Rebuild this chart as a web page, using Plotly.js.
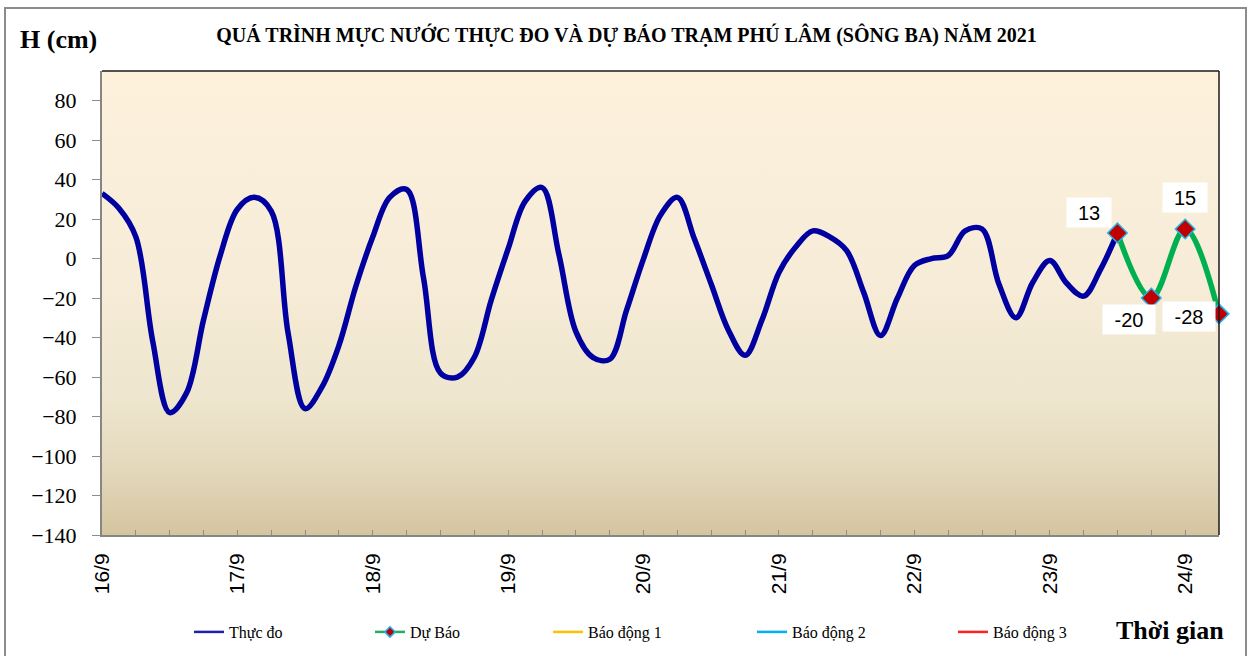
<!DOCTYPE html>
<html>
<head>
<meta charset="utf-8">
<script src="https://cdn.plot.ly/plotly-3.0.1.min.js"></script>
<style>
  html, body { margin: 0; padding: 0; background: #ffffff; }
  #chart { width: 1253px; height: 656px; }
</style>
</head>
<body>
<div id="chart"></div>
<script>
// ---------------- DATA ----------------
const START_TIME = '2021-09-16 00:00';
const STEP_HOURS = 3;
// Observed water level (cm), every 3 hours from 16/9 00h to 23/9 12h
const observed = [
  33, 25.5, 11, -42, -78, -68, -31, 2,
  25, 31, 24, -38, -76, -65, -44, -14,
  11, 31, 35, -10, -58, -60, -50, -21,
  5, 29, 36, 2, -37, -50, -51, -26,
  0, 22, 31, 10, -13, -36, -49, -31,
  -7, 6, 14, 11, 4, -17, -39, -20,
  -3.5, 0, 1.5, 14, 15, -13, -30, -12,
  -1, -12.5, -19, -5.5, 13
];
// Forecast
const forecastTimes = ['2021-09-23 12:00', '2021-09-23 18:00', '2021-09-24 00:00', '2021-09-24 06:00'];
const forecast = [13, -20, 15, -28];

const seriesNames = ['Thực đo', 'Dự Báo', 'Báo động 1', 'Báo động 2', 'Báo động 3'];
const titleText = 'QUÁ TRÌNH MỰC NƯỚC THỰC ĐO VÀ DỰ BÁO TRẠM PHÚ LÂM (SÔNG BA) NĂM 2021';
const yTitleText = 'H (cm)';
const xTitleText = 'Thời gian';

// ---------------- HELPERS ----------------
function pad(n) { return (n < 10 ? '0' : '') + n; }
function timeAt(i) {
  const base = Date.UTC(2021, 8, 16, 0, 0);
  const d = new Date(base + i * STEP_HOURS * 3600 * 1000);
  return d.getUTCFullYear() + '-' + pad(d.getUTCMonth() + 1) + '-' + pad(d.getUTCDate()) + ' ' +
         pad(d.getUTCHours()) + ':' + pad(d.getUTCMinutes());
}
const observedTimes = observed.map((_, i) => timeAt(i));

// ---------------- STYLE ----------------
const W = 1253, H = 656;
const M = { l: 102, r: 34, t: 71, b: 121 };
const PW = W - M.l - M.r, PH = H - M.t - M.b;
const px2x = px => (px - M.l) / PW;
const px2y = py => (H - M.b - py) / PH;

const SERIF = 'Liberation Serif, Times New Roman, serif';
const SANS = 'Liberation Sans, Arial, sans-serif';

const BLUE = '#0000A0', GREEN = '#00B050', RED_M = '#C00000', CYAN = '#1FB4EC';
const Y1 = '#FFC000', C2 = '#00B0F0', R3 = '#FF2020';

const gradSvg = "<svg xmlns='http://www.w3.org/2000/svg' width='100' height='100' preserveAspectRatio='none'>" +
  "<defs><linearGradient id='g' x1='0' y1='0' x2='0' y2='1'>" +
  "<stop offset='0' stop-color='#FDF1DC'/>" +
  "<stop offset='0.45' stop-color='#F6ECD7'/>" +
  "<stop offset='0.7' stop-color='#EFE6CF'/>" +
  "<stop offset='0.85' stop-color='#E4D9BD'/>" +
  "<stop offset='1' stop-color='#D4C59F'/>" +
  "</linearGradient></defs><rect x='0' y='0' width='100' height='100' fill='url(#g)'/></svg>";
const gradUri = 'data:image/svg+xml;charset=utf-8,' + encodeURIComponent(gradSvg);

// label offsets (pixels) for forecast value labels
const labelShift = [[-28, 20], [-22, -21], [0, 31], [-30, -3]];

// ---------------- TRACES ----------------
const traces = [
  {
    x: observedTimes, y: observed, type: 'scatter', mode: 'lines',
    line: { color: BLUE, width: 5.5, shape: 'spline', smoothing: 1 },
    showlegend: false, hoverinfo: 'x+y'
  },
  {
    x: forecastTimes, y: forecast, type: 'scatter', mode: 'lines+markers',
    line: { color: GREEN, width: 5.5, shape: 'spline', smoothing: 1 },
    marker: { symbol: 'diamond', size: 15, color: RED_M, line: { color: CYAN, width: 1.5 } },
    cliponaxis: false, showlegend: false
  },
  // legend entries
  { x: [observedTimes[0]], y: [null], type: 'scatter', mode: 'lines', name: seriesNames[0],
    line: { color: '#2020B0', width: 2.5 }, legend: 'legend' },
  { x: [observedTimes[0]], y: [null], type: 'scatter', mode: 'lines+markers', name: seriesNames[1],
    line: { color: '#20B060', width: 2.5 },
    marker: { symbol: 'diamond', size: 8, color: RED_M, line: { color: CYAN, width: 1.5 } }, legend: 'legend2' },
  { x: [observedTimes[0]], y: [null], type: 'scatter', mode: 'lines', name: seriesNames[2],
    line: { color: Y1, width: 2.5 }, legend: 'legend3' },
  { x: [observedTimes[0]], y: [null], type: 'scatter', mode: 'lines', name: seriesNames[3],
    line: { color: C2, width: 2.5 }, legend: 'legend4' },
  { x: [observedTimes[0]], y: [null], type: 'scatter', mode: 'lines', name: seriesNames[4],
    line: { color: R3, width: 2.5 }, legend: 'legend5' }
];

// ---------------- ANNOTATIONS ----------------
const annotations = forecast.map((v, i) => ({
  x: forecastTimes[i], y: v, xref: 'x', yref: 'y', text: String(v), showarrow: false,
  xshift: labelShift[i][0], yshift: labelShift[i][1],
  width: String(v).length > 2 ? 50 : 42, height: 27,
  bgcolor: '#FFFFFF', borderpad: 1,
  font: { family: SANS, size: 20, color: '#000000' }
}));
annotations.push({
  x: px2x(18), y: px2y(40), xref: 'paper', yref: 'paper', xanchor: 'left', yanchor: 'middle',
  text: '<b>' + yTitleText + '</b>', showarrow: false,
  font: { family: SERIF, size: 26, color: '#000000' }
});
annotations.push({
  x: px2x(1226), y: px2y(630), xref: 'paper', yref: 'paper', xanchor: 'right', yanchor: 'middle',
  text: '<b>' + xTitleText + '</b>', showarrow: false,
  font: { family: SERIF, size: 26, color: '#000000' }
});

function legendAt(textLeft) {
  return {
    orientation: 'h', xref: 'container', yref: 'container',
    x: (textLeft - 40) / W, y: 1 - 632 / H, xanchor: 'left', yanchor: 'middle',
    bgcolor: 'rgba(0,0,0,0)', borderwidth: 0,
    font: { family: SERIF, size: 16, color: '#000000' }
  };
}

const layout = {
  width: W, height: H,
  margin: M,
  paper_bgcolor: '#FFFFFF',
  plot_bgcolor: 'rgba(0,0,0,0)',
  title: {
    text: '<b>' + titleText + '</b>',
    x: 0.5, xref: 'container', xanchor: 'center',
    y: 1 - 35 / H, yref: 'container', yanchor: 'middle',
    font: { family: SERIF, size: 20, color: '#000000' }
  },
  xaxis: {
    type: 'date',
    range: ['2021-09-16 00:00', '2021-09-24 06:00'],
    tick0: '2021-09-16 00:00', dtick: 86400000,
    tickformat: '%-d/%-m',
    tickangle: -90,
    ticks: 'inside', ticklen: 5, tickwidth: 1, tickcolor: '#8C8C8C',
    minor: { dtick: 6 * 3600000, ticks: 'inside', ticklen: 5, tickwidth: 1, tickcolor: '#8C8C8C', showgrid: false },
    showline: true, linecolor: '#868686', linewidth: 2,
    showgrid: false, zeroline: false,
    ticklabelstandoff: 8,
    tickfont: { family: SANS, size: 21, color: '#000000' },
    fixedrange: true
  },
  yaxis: {
    range: [-140, 95],
    tick0: 0, dtick: 20,
    ticks: 'outside', ticklen: 8, tickwidth: 1, tickcolor: '#8C8C8C',
    showline: true, linecolor: '#868686', linewidth: 2,
    showgrid: false, zeroline: false,
    ticklabelstandoff: 11,
    tickfont: { family: SERIF, size: 22, color: '#000000' },
    fixedrange: true
  },
  images: [{
    source: gradUri, xref: 'paper', yref: 'paper', x: 0, y: 1, sizex: 1, sizey: 1,
    xanchor: 'left', yanchor: 'top', sizing: 'stretch', layer: 'below'
  }],
  shapes: [
    { type: 'line', xref: 'paper', yref: 'paper', x0: 0, x1: 1, y0: 1, y1: 1, line: { color: '#1A1A1A', width: 1.5 } },
    { type: 'line', xref: 'paper', yref: 'paper', x0: 1, x1: 1, y0: 0, y1: 1, line: { color: '#1A1A1A', width: 1.5 } },
    { type: 'rect', xref: 'paper', yref: 'paper', x0: px2x(5), x1: px2x(1246), y0: px2y(675), y1: px2y(8),
      line: { color: '#8C8C8C', width: 2 }, fillcolor: 'rgba(0,0,0,0)' }
  ],
  annotations: annotations,
  legend: legendAt(229),
  legend2: legendAt(410),
  legend3: legendAt(588),
  legend4: legendAt(792),
  legend5: legendAt(993),
  hovermode: false
};

Plotly.newPlot('chart', traces, layout, { displayModeBar: false, staticPlot: true });
</script>
</body>
</html>
